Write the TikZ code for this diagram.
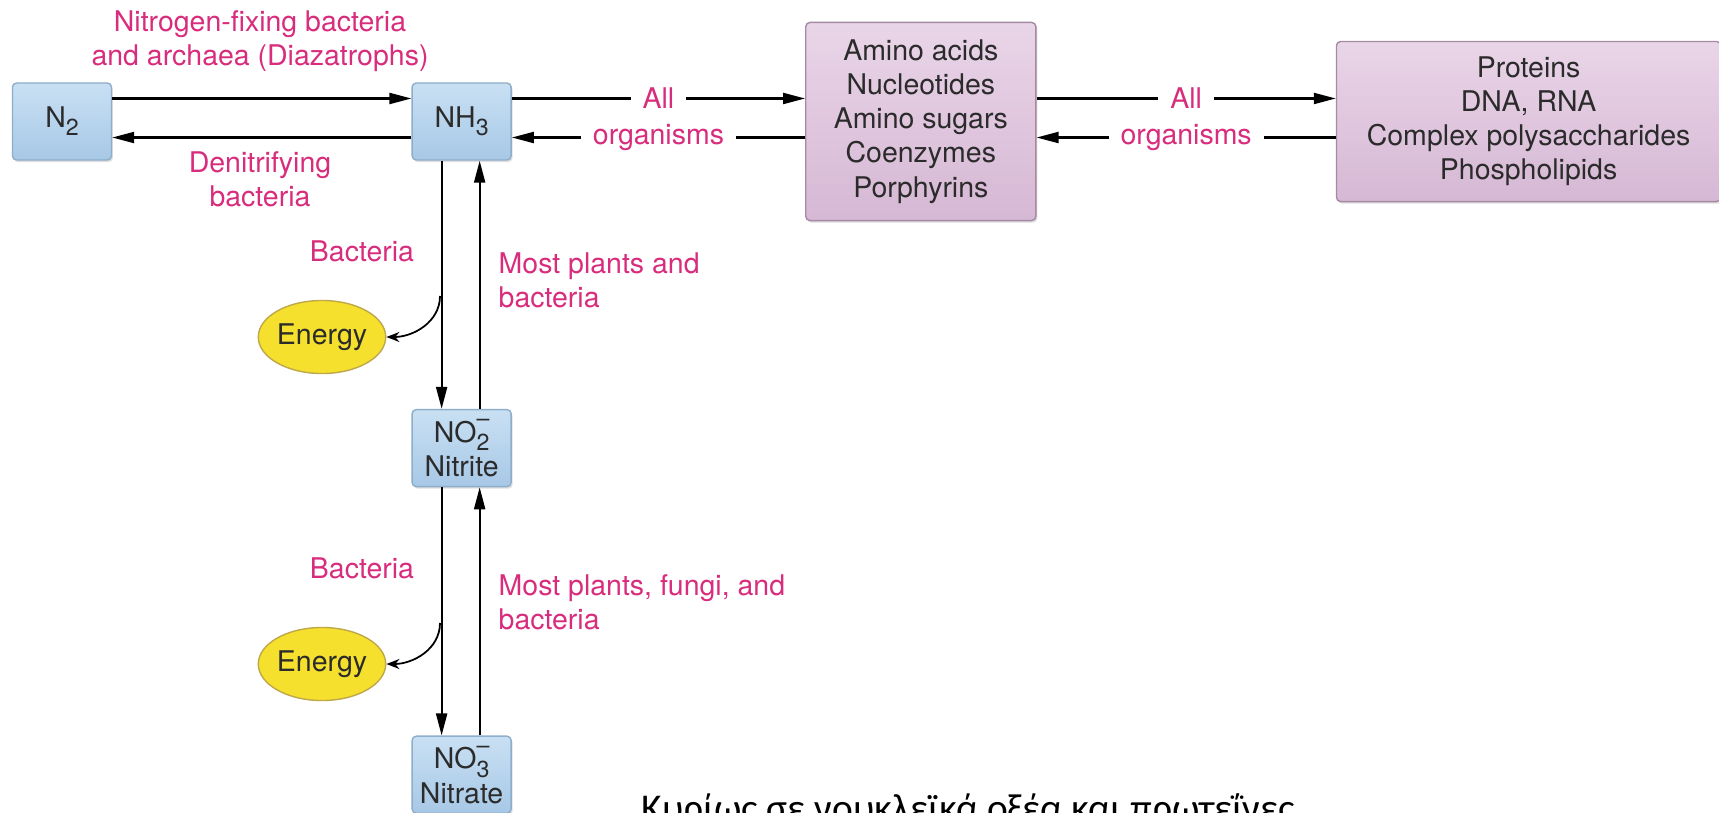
\documentclass[tikz,border=0pt]{standalone}
\usepackage{fontspec}
\setmainfont{TeX Gyre Heros}
\newfontfamily\greekfont{Carlito}
\usepackage{tikz}
\usetikzlibrary{arrows.meta,positioning,shapes.geometric,shadows}
\definecolor{boxblue}{HTML}{C9E0F3}
\definecolor{boxbluedark}{HTML}{A7C8E6}
\definecolor{blueline}{HTML}{8EADC9}
\definecolor{boxpurple}{HTML}{E9D5E8}
\definecolor{boxpurpledark}{HTML}{D6B8D4}
\definecolor{purpleline}{HTML}{A58AA4}
\definecolor{labelpink}{HTML}{D82C7C}
\definecolor{energyfill}{HTML}{F5E02E}
\definecolor{energyline}{HTML}{BFA84A}
\definecolor{boxtext}{HTML}{2B2B2B}
% ion: formula, subscript, charge stacked
\newcommand{\ionsym}[3]{#1\rlap{\raisebox{-0.55ex}{\fontsize{6.6pt}{0pt}\selectfont #2}}\raisebox{1.05ex}{\fontsize{6.6pt}{0pt}\selectfont #3}}

\begin{document}
\begin{tikzpicture}[x=0.01cm, y=-0.01cm,
  every node/.style={font=\fontsize{8.1pt}{9.7pt}\selectfont},
  compound/.style={draw=blueline, rounded corners=1.2pt, top color=boxblue, bottom color=boxbluedark, minimum width=0.99cm, minimum height=0.77cm, inner sep=0pt, align=center, text=boxtext, drop shadow={opacity=0.25, shadow xshift=0.4pt, shadow yshift=-0.6pt}},
  product/.style={draw=purpleline, rounded corners=1.2pt, top color=boxpurple, bottom color=boxpurpledark, inner sep=0pt, align=center, text=boxtext, drop shadow={opacity=0.25, shadow xshift=0.4pt, shadow yshift=-0.6pt}},
  energy/.style={ellipse, draw=energyline, fill=energyfill, minimum width=1.2cm, minimum height=0.73cm, inner sep=0pt, text=boxtext},
  lbl/.style={text=labelpink, inner sep=0pt, align=center},
  gaplbl/.style={text=labelpink, fill=white, inner xsep=1.2mm, inner ysep=0.5pt},
  arr/.style={-{Triangle[length=2.2mm, width=1.1mm]}, line width=0.6pt},
  earr/.style={-{Stealth[length=1.3mm, width=1mm]}, line width=0.5pt}
]
  \useasboundingbox (0,0) rectangle (1719,812);
  \clip (0,0) rectangle (1719,812);

  % compounds
  \node[compound] (n2) at (62,121.5) {N\raisebox{-0.55ex}{\fontsize{6.6pt}{0pt}\selectfont 2}};
  \node[compound, right=2.99cm of n2] (nh3) {NH\raisebox{-0.55ex}{\fontsize{6.6pt}{0pt}\selectfont 3}};
  \node[product, minimum width=2.3cm, minimum height=1.98cm, right=2.93cm of nh3] (amino) {Amino acids\\Nucleotides\\Amino sugars\\Coenzymes\\Porphyrins};
  \node[product, minimum width=3.84cm, minimum height=1.6cm, right=2.99cm of amino] (macro) {Proteins\\DNA, RNA\\Complex polysaccharides\\Phospholipids};
  \node[compound, below=2.48cm of nh3] (nitrite) {\ionsym{NO}{2}{--}\\Nitrite};
  \node[compound, below=2.48cm of nitrite] (nitrate) {\ionsym{NO}{3}{--}\\Nitrate};
  \node[energy] (energy1) at (322,337) {Energy};
  \node[energy] (energy2) at (322,664) {Energy};

  % organism labels
  \node[lbl] (fixers) at (260,41) {Nitrogen-fixing bacteria\\and archaea (Diazatrophs)};
  \node[lbl] (denit) at (260,179) {Denitrifying\\bacteria};
  \node[lbl] (oxid1) at (362,251) {Bacteria};
  \node[lbl, anchor=west, align=left] (assim1) at (498,280) {Most plants and\\bacteria};
  \node[lbl] (oxid2) at (362,568) {Bacteria};
  \node[lbl, anchor=west, align=left] (assim2) at (498,602) {Most plants, fungi, and\\bacteria};

  % horizontal arrows
  \draw[arr] ([yshift=2.3mm]n2.east) -- ([yshift=2.3mm]nh3.west);
  \draw[arr] ([yshift=-1.6mm]nh3.west) -- ([yshift=-1.6mm]n2.east);
  \draw[arr] ([yshift=2.3mm]nh3.east) -- node[gaplbl] (all1) {All} ([yshift=2.3mm]amino.west);
  \draw[arr] ([yshift=-1.6mm]amino.west) -- node[gaplbl] (orgs1) {organisms} ([yshift=-1.6mm]nh3.east);
  \draw[arr] ([yshift=2.3mm]amino.east) -- node[gaplbl] (all2) {All} ([yshift=2.3mm]macro.west);
  \draw[arr] ([yshift=-1.6mm]macro.west) -- node[gaplbl] (orgs2) {organisms} ([yshift=-1.6mm]amino.east);

  % vertical arrows
  \draw[arr] ([xshift=-2mm]nh3.south) -- ([xshift=-2mm]nitrite.north);
  \draw[arr] ([xshift=1.8mm]nitrite.north) -- ([xshift=1.8mm]nh3.south);
  \draw[arr] ([xshift=-2mm]nitrite.south) -- ([xshift=-2mm]nitrate.north);
  \draw[arr] ([xshift=1.8mm]nitrate.north) -- ([xshift=1.8mm]nitrite.south);

  % energy branches
  \coordinate (split1) at (440,296);
  \coordinate (split2) at (440,623);
  \draw[earr] (split1) to[out=-90, in=0] (energy1.east);
  \draw[earr] (split2) to[out=-90, in=0] (energy2.east);

  \node[font=\greekfont\fontsize{11.2pt}{13pt}\selectfont, anchor=base west, inner sep=0pt] (note) at (641,821) {Κυρίως σε νουκλεϊκά οξέα και πρωτεΐνες};
\end{tikzpicture}
\end{document}
